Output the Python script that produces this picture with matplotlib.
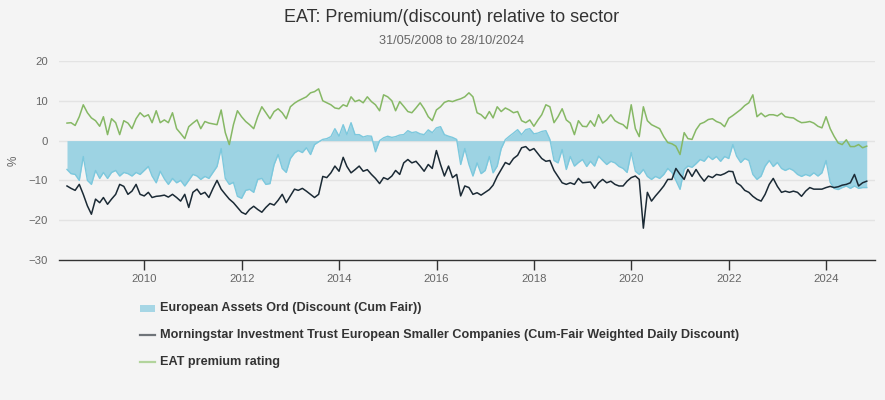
import matplotlib
matplotlib.use("Agg")
import matplotlib.pyplot as plt
import matplotlib.dates as mdates
from matplotlib.lines import Line2D
from matplotlib.patches import Rectangle
import pandas as pd
from datetime import datetime

plt.rcParams['font.family'] = ['Liberation Sans', 'DejaVu Sans']

# ---- data (monthly readings) ----
dates = pd.date_range('2008-05-31', periods=198, freq='ME')

eat_discount = [
    -7.25, -8.3, -8.5, -10, -4, -10, -11, -7.5, -9.5, -8, -9.5, -8, -7.5, -8.9, -8, -8.3, -8.9, -8, -8.5, -7.5,
    -6.5, -8.9, -10.6, -7.7, -9.6, -11, -9.5, -10.6, -10, -11.4, -10, -8.5, -8.9, -9.75, -9, -9.5, -8, -6.5, -2, -9.5,
    -11, -10.5, -14, -14.5, -12.5, -12.25, -13, -9.75, -9.5, -11, -10.8, -6, -3.5, -7, -8, -4.5, -3.1, -2.5, -3, -1.8,
    -3.5, -1, -0.3, 0.3, 0.5, 1, 3, 1.1, 4, 1.5, 4.5, 1.5, 1.5, 0.9, 1.2, 1.1, -2.8, 0, 0.7, 1.1,
    0.8, 1, 1.4, 1.5, 2.5, 2, 2.2, 1.7, 1.5, 2.7, 2, 3.2, 3.5, 1.5, 1.1, 0.8, 0.3, -6, -2, -6,
    -8.9, -5.6, -8.3, -7.5, -4, -8.1, -6.4, -2, 0.25, 1.1, 1.9, 2.75, 1.5, 2.75, 3, 1.7, 1.9, 2.3, 2.5, 0.3,
    -5, -5.6, -2.25, -7.25, -4, -6.4, -5.5, -4.75, -6.5, -5.2, -6.4, -3.9, -5, -6, -5.2, -5.6, -6.5, -7, -8, -3,
    -7.7, -8.5, -7.25, -9, -9.75, -9, -9.5, -8.5, -7, -8, -10, -12.25, -7.25, -6.4, -6.7, -5.8, -4.75, -5.2, -3.9, -4.75,
    -4, -5.2, -4, -4.5, -1, -3.9, -5.5, -4.5, -5, -8.5, -9.75, -8.9, -6.4, -5, -6.5, -5.5, -7, -7.5, -7, -7.5,
    -8.5, -9, -8.5, -8.9, -8.1, -8.9, -8.1, -5, -10.5, -12, -12.3, -11.8, -11.4, -12, -11.4, -12, -11.8, -11.8,
]

sector_discount = [
    -11.4, -12, -12.5, -11, -13.5, -16.4, -18.5, -14.7, -15.6, -14.3, -16, -14.7, -13.5, -11, -11.5, -13.5, -12.7, -11, -13.5, -13.9,
    -13, -14.3, -14, -13.9, -13.7, -14.2, -13.5, -14.3, -15.2, -13.5, -16.8, -13, -12.2, -13.5, -13, -14.3, -12, -10, -12.2, -13.5,
    -14.7, -15.6, -16.8, -18, -18.5, -17.3, -16.5, -17.3, -18, -16.8, -15.8, -16.2, -15, -13.5, -15.6, -13.9, -12.2, -12.5, -12, -12.7,
    -13.5, -14.3, -13.5, -9, -9.3, -8.1, -6.4, -7.7, -4.2, -6.5, -8.1, -7.3, -6.4, -7.7, -7.3, -8.5, -9.5, -10.8, -9.3, -9.75,
    -8.9, -7.5, -8.5, -5.6, -4.75, -5.6, -5.2, -6.4, -7.7, -6, -7, -2.5, -6, -8.9, -6.4, -9.3, -8.5, -13.9, -11.4, -11.8,
    -13.5, -13.1, -13.7, -13, -12.3, -11.2, -9, -7.3, -5.5, -6, -4.5, -3.7, -1.8, -1.5, -2.5, -2, -3.3, -4.5, -5.2, -5,
    -7.5, -9, -10.6, -11, -10.6, -11, -9.5, -10.6, -10.5, -10.4, -12, -10.6, -9.75, -10.6, -10.2, -11, -11.4, -11.4, -10.2, -9.3,
    -8.9, -9.75, -22, -13, -15.2, -13.9, -12.7, -11.4, -9.75, -9.75, -7, -8.5, -9.75, -7.25, -9, -7.25, -8.9, -10.2, -8.9, -9.3,
    -8.5, -8.7, -8.3, -7.7, -7.8, -10.6, -11.3, -12.5, -13, -14, -14.75, -15.2, -13.5, -11, -9.5, -11.5, -13, -12.7, -13, -12.7,
    -13, -14, -12.7, -11.8, -12.2, -12.2, -12.2, -11.8, -11.5, -11.8, -11.6, -11.2, -11, -10.6, -8.5, -11.4, -10.6, -10.2,
]

premium_rating = [
    4.4, 4.5, 3.8, 6, 9, 7, 5.7, 5, 3.6, 6, 1.5, 5.5, 4.5, 1.5, 5, 4.4, 3, 5.5, 7, 6,
    6.5, 4.5, 7.5, 4.5, 5.2, 4.5, 7, 3, 1.8, 0.5, 3.5, 4.4, 5.2, 3, 4.8, 4.4, 4.2, 4, 7.7, 2,
    -1, 4, 7.5, 6, 4.8, 4, 3, 6, 8.5, 7, 5.5, 7.3, 8, 7, 5.5, 8.5, 9.4, 10, 10.5, 11,
    12, 12.3, 13, 10, 9.5, 9, 8.2, 8, 9, 8.6, 11, 9.8, 10.2, 9.5, 11, 9.8, 9, 7.5, 11.5, 11,
    10, 7.5, 9.8, 8.6, 7.3, 7, 8.2, 9.5, 8, 6, 5, 7.7, 8.5, 9.6, 10, 9.8, 10.2, 10.5, 11, 12,
    11, 7, 6.5, 5.5, 7.3, 5.7, 8.5, 7.3, 8.2, 7.7, 7, 7.3, 5, 4.5, 5.2, 3.6, 5.2, 6.5, 9, 8.5,
    4.5, 6, 8, 5.2, 4.4, 1.5, 5, 3.6, 3.5, 5, 3.6, 6.5, 4.4, 5.2, 6.5, 5, 4.4, 4, 3, 9,
    3, 1, 8.5, 5, 4, 3.5, 3, 1, -0.5, -0.8, -1.4, -3.5, 2, 0.5, 0.3, 2.7, 4.2, 4.6, 5.3, 5.5,
    4.8, 4.4, 3.5, 5.6, 6.3, 7, 7.8, 8.8, 9.5, 11.5, 6, 6.9, 6, 6.5, 6.5, 6.2, 6.9, 6, 5.8, 5.7,
    5, 4.5, 4.6, 4.8, 4.4, 3.6, 3.2, 6, 3, 1.1, -0.6, -1, 0.2, -1.5, -1.5, -1, -1.8, -1.4,
]

series_names = [
    'European Assets Ord (Discount (Cum Fair))',
    'Morningstar Investment Trust European Smaller Companies (Cum-Fair Weighted Daily Discount)',
    'EAT premium rating',
]
title = 'EAT: Premium/(discount) relative to sector'
subtitle = '31/05/2008 to 28/10/2024'
year_ticks = list(range(2010, 2025, 2))
y_ticks = [-30, -20, -10, 0, 10, 20]

# ---- styling ----
BG = '#f4f4f4'
FILL = '#9dd3e3'
EDGE = '#7cc8dd'
DARK = '#1b2a35'
GREEN = '#86b865'

fig = plt.figure(figsize=(8.85, 4.0), dpi=100, facecolor=BG)
ax = fig.add_axes([59 / 885, 1 - 260 / 400, (875 - 59) / 885, (260 - 61) / 400])
ax.set_facecolor(BG)

ax.fill_between(dates, 0, eat_discount, color=FILL, lw=0, zorder=2)
ax.plot(dates, eat_discount, color=EDGE, lw=1.0, zorder=3)
ax.plot(dates, sector_discount, color=DARK, lw=1.1, zorder=4)
ax.plot(dates, premium_rating, color=GREEN, lw=1.1, zorder=5)

ax.set_xlim(datetime(2008, 4, 1), datetime(2025, 1, 1))
ax.set_ylim(-30, 20)
ax.set_yticks(y_ticks)
ax.set_xticks([datetime(y, 1, 1) for y in year_ticks])
ax.xaxis.set_major_formatter(mdates.DateFormatter('%Y'))

for v in y_ticks[1:]:
    ax.axhline(v, color='#e3e3e3', lw=1, zorder=1)

for s in ['top', 'right', 'left']:
    ax.spines[s].set_visible(False)
ax.spines['bottom'].set_color('#333333')
ax.spines['bottom'].set_linewidth(1)

ax.tick_params(axis='y', length=0, labelsize=8.2, labelcolor='#666666', pad=8)
ax.tick_params(axis='x', length=7, width=1, color='#333333', labelsize=8.2,
               labelcolor='#666666', pad=3)
ax.set_ylabel('%', fontsize=8.5, color='#666666')
ax.yaxis.set_label_coords((20 - 59) / 816, 0.5)

fig.text(452 / 885, 1 - 18 / 400, title, ha='center', va='center', fontsize=13, color='#333333')
fig.text(452 / 885, 1 - 41 / 400, subtitle, ha='center', va='center', fontsize=9.2, color='#666666')

# legend
rows = [308, 335, 362]
for i, (name, yy) in enumerate(zip(series_names, rows)):
    yf = 1 - yy / 400
    if i == 0:
        fig.add_artist(Rectangle((140 / 885, yf - 3.5 / 400), 15 / 885, 7 / 400,
                                 transform=fig.transFigure, color='#a6d6e5', lw=0))
    else:
        col = '#6f7479' if i == 1 else '#b2d49c'
        fig.add_artist(Line2D([140 / 885, 155 / 885], [yf, yf], transform=fig.transFigure,
                              color=col, lw=1.6))
    fig.text(160 / 885, yf, name, ha='left', va='center', fontsize=9.1,
             fontweight='bold', color='#333333')

fig.savefig('out.png', dpi=100, facecolor=BG)
